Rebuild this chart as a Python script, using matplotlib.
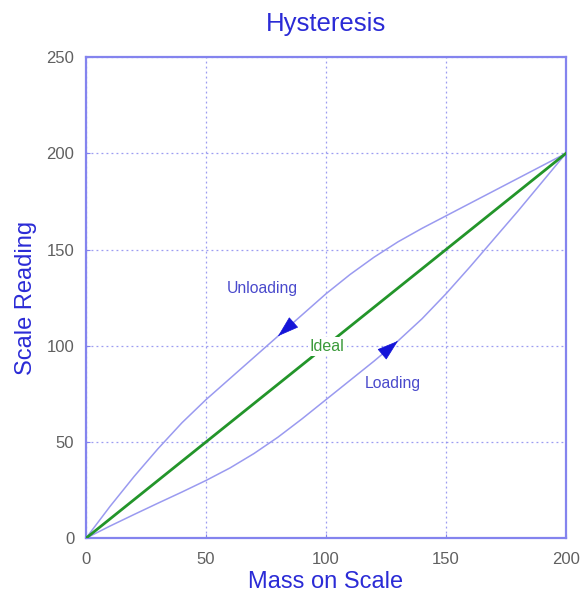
import matplotlib
matplotlib.use("Agg")
import matplotlib.pyplot as plt

plt.rcParams['font.family'] = ['Liberation Sans', 'DejaVu Sans']

# data
x_load = [0, 10, 20, 30, 40, 50, 60, 70, 80, 90, 100, 110, 120, 130, 140, 150, 160, 170, 180, 190, 200]
y_load = [0, 6.3, 12.3, 18.2, 24, 30, 36.5, 44, 52.5, 62, 72, 82, 92, 102.5, 114, 127, 141, 155.5, 170, 185, 200]
x_unload = [0, 10, 20, 30, 40, 50, 60, 70, 80, 90, 100, 110, 120, 130, 140, 150, 160, 170, 180, 190, 200]
y_unload = [0, 16.5, 32, 46.5, 60, 72, 83, 94, 105, 116, 127, 137, 146, 154, 161, 167.5, 174, 180.5, 187, 193.5, 200]
x_ideal = [0, 200]
y_ideal = [0, 200]
ticks = [0, 50, 100, 150, 200, 250]

frame_c = '#8484ee'
curve_c = '#9a9af0'
blue_txt = '#2b2bd6'

fig = plt.figure(figsize=(5.87, 6.01), dpi=100)
ax = fig.add_axes([0.1465, 0.1045, 0.8177, 0.8005])

ax.plot(x_load, y_load, color=curve_c, lw=1.1, zorder=3)
ax.plot(x_unload, y_unload, color=curve_c, lw=1.1, zorder=3)
ax.plot(x_ideal, y_ideal, color='#23952a', lw=2.0, zorder=3)

def head(xs, ys, i_from, i_to):
    x0, y0 = xs[i_from], ys[i_from]
    x1, y1 = xs[i_to], ys[i_to]
    xt = x1 + (x0 - x1) * 0.05
    yt = y1 + (y0 - y1) * 0.05
    ax.annotate('', xy=(x1, y1), xytext=(xt, yt),
                arrowprops=dict(arrowstyle='-|>,head_length=1.4,head_width=0.45',
                                mutation_scale=10,
                                color='#1414d8', lw=0.5, shrinkA=0, shrinkB=0),
                zorder=5)

head(x_unload, y_unload, 9, 8)
head(x_load, y_load, 12, 13)

ax.text(73.5, 129.5, 'Unloading', color='#4a4acc', fontsize=11.3, ha='center', va='center')
ax.text(128, 80.5, 'Loading', color='#4a4acc', fontsize=11.3, ha='center', va='center')
ax.text(100.5, 99.5, 'Ideal', color='#3a9a3a', fontsize=11.5, ha='center', va='center',
        bbox=dict(facecolor='white', edgecolor='none', pad=1.5), zorder=4)

ax.set_xlim(0, 200)
ax.set_ylim(0, 250)
ax.set_xticks(ticks[:5])
ax.set_yticks(ticks)
ax.grid(True, color=frame_c, linestyle=(0, (1.5, 2.5)), lw=0.9, alpha=0.8)
for s in ax.spines.values():
    s.set_color(frame_c)
    s.set_linewidth(1.6)
ax.tick_params(direction='in', length=3, color=frame_c, labelcolor='#606060',
               labelsize=12)
ax.tick_params(axis='x', pad=10)
ax.tick_params(axis='y', pad=8.5)

ax.set_title('Hysteresis', color=blue_txt, fontsize=18.5, pad=19)
ax.set_xlabel('Mass on Scale', color=blue_txt, fontsize=17, labelpad=3)
ax.set_ylabel('Scale Reading', color=blue_txt, fontsize=17, labelpad=7)

fig.savefig('out.png', dpi=100)
